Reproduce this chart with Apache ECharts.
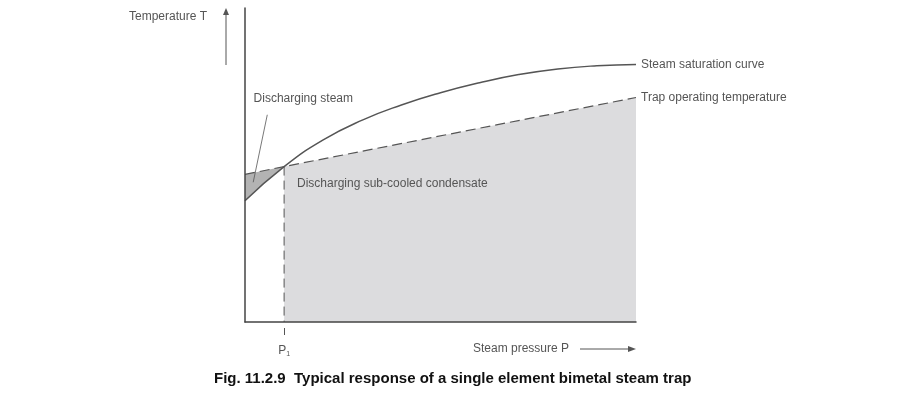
<!DOCTYPE html>
<html>
<head>
<meta charset="utf-8">
<script src="https://cdn.jsdelivr.net/npm/echarts@6/dist/echarts.min.js"></script>
<style>
  html, body { margin: 0; padding: 0; background: #fff; }
  #chart { width: 900px; height: 397px; }
</style>
</head>
<body>
<div id="chart"></div>
<script>
'use strict'
// pressure (0..100) vs temperature (0..100), arbitrary units
var P1 = 10;
var satX = [0, 10, 20, 30, 40, 50, 60, 70, 80, 90, 100];
var satY = [38.6, 49.5, 58.0, 64.3, 69.1, 73.0, 76.2, 78.8, 80.6, 81.6, 82.0];
var trapX = [0, 10, 100];
var trapY = [47, 49.5, 71.5];
var xTicks = [P1];

function pairs(xs, ys) {
    return xs.map(function (x, i) { return [x, ys[i]]; });
}

var chart = echarts.init(document.getElementById('chart'));
var font = '"Liberation Sans", Arial, sans-serif';
var ink = '#555';

var satData = pairs(satX, satY);
var trapData = pairs(trapX, trapY);
var p1Index = trapX.indexOf(P1);

var option = {
    animation: false,
    textStyle: { fontFamily: font, color: ink },
    title: {
        text: 'Fig. 11.2.9  Typical response of a single element bimetal steam trap',
        left: 214,
        top: 371,
        padding: 0,
        textStyle: { fontFamily: font, fontSize: 15, fontWeight: 'bold', color: '#111' }
    },
    grid: { left: 245, right: 264, top: 8, bottom: 75 },
    xAxis: {
        type: 'value', min: 0, max: 100, z: 5,
        axisLine: { lineStyle: { color: '#444', width: 1.5 } },
        splitLine: { show: false },
        axisTick: {
            customValues: xTicks, length: 13,
            lineStyle: { color: ink, width: 1, type: [0, 6, 7, 50] }
        },
        axisLabel: {
            customValues: xTicks, margin: 21,
            formatter: function () { return 'P{s|1}'; },
            color: ink, fontSize: 12, fontFamily: font,
            rich: { s: { fontSize: 7, fontFamily: font, color: ink, padding: [8, 0, 0, 0] } }
        }
    },
    yAxis: {
        type: 'value', min: 0, max: 100, z: 5,
        axisLine: { show: true, lineStyle: { color: '#444', width: 1.5 } },
        axisTick: { show: false },
        axisLabel: { show: false },
        splitLine: { show: false }
    },
    series: [{
        name: 'darkFill', type: 'line', data: trapData.slice(0, p1Index + 1),
        showSymbol: false, silent: true,
        lineStyle: { width: 0 },
        areaStyle: { color: '#b3b3b3', opacity: 1 },
        markPoint: {
            symbolSize: 0, silent: true,
            label: { show: true, position: 'right', distance: 0, color: ink, fontSize: 12, fontFamily: font,
                formatter: 'Discharging steam' },
            data: [{ coord: [2.2, 71] }]
        },
        markLine: {
            symbol: 'none', silent: true, label: { show: false },
            lineStyle: { color: ink, width: 0.8, type: 'solid' },
            data: [[{ coord: [5.7, 66] }, { coord: [2.1, 44.5] }]]
        }
    }, {
        name: 'mask', type: 'line', data: satData, smooth: 0.5,
        showSymbol: false, silent: true,
        lineStyle: { width: 0 },
        areaStyle: { color: '#fff', opacity: 1 }
    }, {
        name: 'lightFill', type: 'line', data: trapData.slice(p1Index),
        showSymbol: false, silent: true,
        lineStyle: { width: 0 },
        areaStyle: { color: '#dcdcde', opacity: 1 },
        markPoint: {
            symbolSize: 0, silent: true,
            label: { show: true, position: 'right', distance: 0, color: ink, fontSize: 12, fontFamily: font,
                formatter: 'Discharging sub-cooled condensate' },
            data: [{ coord: [13.3, 44] }]
        }
    }, {
        name: 'Steam saturation curve', type: 'line', data: satData, smooth: 0.5,
        showSymbol: false,
        lineStyle: { color: ink, width: 1.5 },
        endLabel: { show: true, formatter: '{a}', color: ink, fontSize: 12, fontFamily: font, distance: 5 }
    }, {
        name: 'Trap operating temperature', type: 'line', data: trapData,
        showSymbol: false,
        lineStyle: { color: ink, width: 1.2, type: [10, 5] },
        endLabel: { show: true, formatter: '{a}', color: ink, fontSize: 12, fontFamily: font, distance: 5 }
    }, {
        name: 'P1', type: 'line', data: [[P1, trapY[p1Index]], [P1, 0]],
        showSymbol: false,
        lineStyle: { color: ink, width: 1, type: [9, 5] }
    }],
    graphic: [
        { type: 'text', left: 129, top: 11, style: { text: 'Temperature T', fill: ink, font: '12px ' + font } },
        { type: 'line', shape: { x1: 226, y1: 65, x2: 226, y2: 14 }, style: { stroke: ink, lineWidth: 1 } },
        { type: 'polygon', shape: { points: [[226, 8], [223, 15], [229, 15]] }, style: { fill: ink } },
        { type: 'text', left: 473, top: 343, style: { text: 'Steam pressure P', fill: ink, font: '12px ' + font } },
        { type: 'line', shape: { x1: 580, y1: 349, x2: 630, y2: 349 }, style: { stroke: ink, lineWidth: 1 } },
        { type: 'polygon', shape: { points: [[636, 349], [628, 346], [628, 352]] }, style: { fill: ink } }
    ]
};
chart.setOption(option);
</script>
</body>
</html>
